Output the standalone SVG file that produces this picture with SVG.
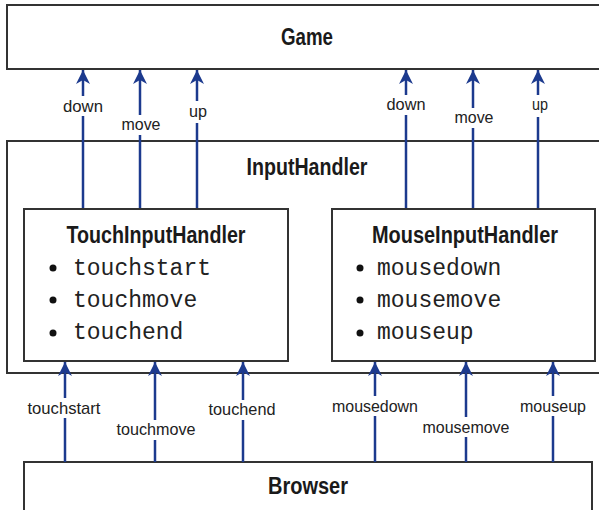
<svg xmlns="http://www.w3.org/2000/svg" width="599" height="510" viewBox="0 0 599 510">
<style>
.box{fill:#fff;stroke:#333;stroke-width:2}
.t{font-family:"Liberation Sans",Arial,sans-serif;font-weight:bold;font-size:23px;fill:#1a1a1a;text-anchor:middle}
.lbl{font-family:"Liberation Sans",Arial,sans-serif;font-size:17px;fill:#222;text-anchor:middle}
.mono{font-family:"Liberation Mono","Courier New",monospace;font-size:23px;fill:#222}
.conn{stroke:#1c3a8e;stroke-width:2.5;fill:none;marker-end:url(#ah)}
.bg{fill:#fff}
</style>
<defs>
<marker id="ah" markerUnits="userSpaceOnUse" markerWidth="16" markerHeight="16" refX="14" refY="7" orient="auto">
<path d="M0,0 L14,7 L0,14 L4,7 Z" fill="#1c3a8e"/>
</marker>
</defs>
<rect width="599" height="510" fill="#fff"/>
<g id="game"><rect class="box" x="7" y="5" width="600" height="64"/><text class="t" x="307" y="45" textLength="52" lengthAdjust="spacingAndGlyphs">Game</text></g>
<g id="inputhandler"><rect class="box" x="7" y="141" width="600" height="232"/><text class="t" x="307" y="175" textLength="121" lengthAdjust="spacingAndGlyphs">InputHandler</text></g>
<g id="browser"><rect class="box" x="24" y="462" width="568" height="60"/><text class="t" x="308" y="494" textLength="80" lengthAdjust="spacingAndGlyphs">Browser</text></g>
<g id="connectors">
<line class="conn" x1="83" y1="209" x2="83" y2="70"/>
<line class="conn" x1="140" y1="209" x2="140" y2="70"/>
<line class="conn" x1="197" y1="209" x2="197" y2="70"/>
<line class="conn" x1="406" y1="209" x2="406" y2="70"/>
<line class="conn" x1="473" y1="209" x2="473" y2="70"/>
<line class="conn" x1="538" y1="209" x2="538" y2="70"/>
<line class="conn" x1="65" y1="462" x2="65" y2="362"/>
<line class="conn" x1="155" y1="462" x2="155" y2="362"/>
<line class="conn" x1="243" y1="462" x2="243" y2="362"/>
<line class="conn" x1="375" y1="462" x2="375" y2="362"/>
<line class="conn" x1="466" y1="462" x2="466" y2="362"/>
<line class="conn" x1="553" y1="462" x2="553" y2="362"/>
<rect class="bg" x="62" y="96" width="42" height="20"/><text class="lbl" x="83" y="112" textLength="40" lengthAdjust="spacingAndGlyphs">down</text>
<rect class="bg" x="119" y="115" width="42" height="20"/><text class="lbl" x="141" y="130" textLength="39" lengthAdjust="spacingAndGlyphs">move</text>
<rect class="bg" x="187" y="101" width="20" height="22"/><text class="lbl" x="198" y="117" textLength="18" lengthAdjust="spacingAndGlyphs">up</text>
<rect class="bg" x="386" y="95" width="42" height="20"/><text class="lbl" x="406" y="110" textLength="39" lengthAdjust="spacingAndGlyphs">down</text>
<rect class="bg" x="453" y="108" width="42" height="20"/><text class="lbl" x="474" y="123" textLength="39" lengthAdjust="spacingAndGlyphs">move</text>
<rect class="bg" x="530" y="95" width="18" height="22"/><text class="lbl" x="540" y="110" textLength="16" lengthAdjust="spacingAndGlyphs">up</text>
<rect class="bg" x="27" y="398" width="76" height="20"/><text class="lbl" x="64" y="414" textLength="73" lengthAdjust="spacingAndGlyphs">touchstart</text>
<rect class="bg" x="115" y="420" width="83" height="20"/><text class="lbl" x="156" y="435" textLength="79" lengthAdjust="spacingAndGlyphs">touchmove</text>
<rect class="bg" x="208" y="400" width="70" height="20"/><text class="lbl" x="242" y="415" textLength="67" lengthAdjust="spacingAndGlyphs">touchend</text>
<rect class="bg" x="331" y="396" width="89" height="20"/><text class="lbl" x="375" y="412" textLength="86" lengthAdjust="spacingAndGlyphs">mousedown</text>
<rect class="bg" x="422" y="417" width="90" height="20"/><text class="lbl" x="466" y="433" textLength="87" lengthAdjust="spacingAndGlyphs">mousemove</text>
<rect class="bg" x="519" y="396" width="69" height="20"/><text class="lbl" x="553" y="412" textLength="66" lengthAdjust="spacingAndGlyphs">mouseup</text>
</g>
<g id="touchinputhandler">
<rect class="box" x="24" y="209" width="264" height="152"/>
<text class="t" x="156" y="243" textLength="179" lengthAdjust="spacingAndGlyphs">TouchInputHandler</text>
<circle cx="53" cy="268" r="3.5" fill="#111"/><text class="mono" x="73" y="275">touchstart</text>
<circle cx="53" cy="300" r="3.5" fill="#111"/><text class="mono" x="73" y="307">touchmove</text>
<circle cx="53" cy="333" r="3.5" fill="#111"/><text class="mono" x="73" y="339">touchend</text>
</g>
<g id="mouseinputhandler">
<rect class="box" x="332" y="209" width="263" height="152"/>
<text class="t" x="465" y="243" textLength="186" lengthAdjust="spacingAndGlyphs">MouseInputHandler</text>
<circle cx="360" cy="268" r="3.5" fill="#111"/><text class="mono" x="377" y="275">mousedown</text>
<circle cx="360" cy="300" r="3.5" fill="#111"/><text class="mono" x="377" y="307">mousemove</text>
<circle cx="360" cy="333" r="3.5" fill="#111"/><text class="mono" x="377" y="339">mouseup</text>
</g>
</svg>
